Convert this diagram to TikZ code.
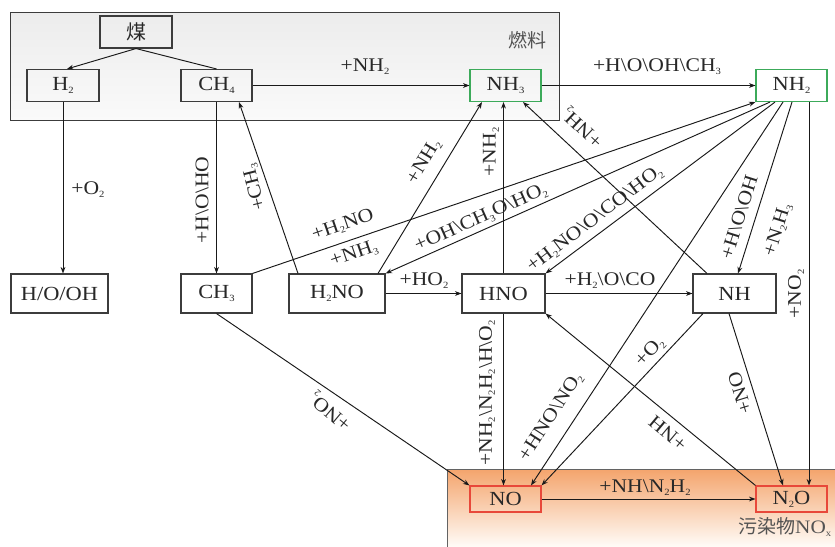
\documentclass[tikz,border=0pt]{standalone}
\usepackage{fontspec}
\setmainfont{Liberation Serif}[FakeStretch=1.12]
\newfontfamily\cjk{Noto Sans CJK SC}
\usetikzlibrary{arrows.meta,calc}
\newcommand\sbs[1]{\raisebox{-3.2pt}{\fontsize{9.5}{9.5}\selectfont #1}}
\newcommand\bsl{\textbackslash}
\definecolor{lnc}{RGB}{25,25,25}
\definecolor{bxc}{RGB}{60,60,60}
\definecolor{txc}{RGB}{40,40,40}
\definecolor{grn}{RGB}{60,170,90}
\definecolor{rdc}{RGB}{232,72,58}
\begin{document}
\begin{tikzpicture}[x=1pt,y=-1pt,
  box/.style={draw=bxc, line width=1.1pt, inner sep=0pt, minimum width=71pt, minimum height=32pt, font=\fontsize{20}{20}\selectfont, text=txc},
  gbox/.style={box, draw=grn},
  rbox/.style={box, draw=rdc, minimum height=26pt},
  lbl/.style={font=\fontsize{19.3}{19.3}\selectfont, text=txc, inner sep=0pt},
  arr/.style={draw=lnc, line width=0.95pt, -{Stealth[length=6.5pt,width=4.8pt]}},
  pln/.style={draw=lnc, line width=0.95pt}
]
\useasboundingbox (0,0) rectangle (835,546);
\fill[white] (0,0) rectangle (835,546);
% fuel region
\shade[top color={rgb,255:red,236;green,236;blue,236}, bottom color={rgb,255:red,250;green,250;blue,250}] (10,12) rectangle (559,120);
\draw[draw=bxc, line width=1pt] (10,12) rectangle (559,120);
\node[font=\cjk\fontsize{19}{19}\selectfont, text=txc!80] (fuel) at (527,40) {燃料};
% pollutant region
\shade[top color={rgb,255:red,244;green,164;blue,108}, bottom color={rgb,255:red,255;green,252;blue,248}] (447,469) rectangle (836,547);
\draw[draw=bxc!80, line width=1pt] (836,469) -- (447,469) -- (447,547);
\node[font=\fontsize{19}{19}\selectfont, text=txc!80, anchor=west, inner sep=0pt] (poll) at (738,527) {{\cjk 污染物}NO\sbs{x}};

% nodes
\node[box, minimum width=72pt] (coal) at (136,32) {\cjk 煤};
\node[box, minimum width=72pt] (H2) at (63,85.5) {H\sbs{2}};
\node[box] (CH4) at (216.5,85.5) {CH\sbs{4}};
\node[gbox] (NH3) at (505.5,85.5) {NH\sbs{3}};
\node[gbox] (NH2) at (791.5,85.5) {NH\sbs{2}};
\node[box, minimum width=97pt, minimum height=39pt] (HOOH) at (59.5,293.5) {H/O/OH};
\node[box, minimum height=39pt] (CH3) at (216.5,293.5) {CH\sbs{3}};
\node[box, minimum width=96pt, minimum height=39pt] (H2NO) at (337,293.5) {H\sbs{2}NO};
\node[box, minimum width=83pt, minimum height=39pt] (HNO) at (503.5,293.5) {HNO};
\node[box, minimum width=83pt, minimum height=39pt] (NH) at (734.5,293.5) {NH};
\node[rbox] (NO) at (505.5,499) {NO};
\node[rbox] (N2O) at (791.5,499) {N\sbs{2}O};

% connectors
\draw[arr] (coal.south) -- ([xshift=4pt]H2.north);
\draw[pln] (coal.south) -- (CH4.north);
\draw[arr] (CH4.east) -- (NH3.west);
\draw[arr] (NH3.east) -- (NH2.west);
\draw[arr] (H2.south) -- (H2.south |- HOOH.north);
\draw[arr] (CH4.south) -- (CH3.north);
\draw[arr] ([xshift=-39pt]H2NO.north) -- ([xshift=22.5pt]CH4.south);
\draw[arr] (CH3.north east) -- (NH2.south west);
\draw[arr] ([xshift=-21.5pt]NH2.south) -- (H2NO.north east);
\draw[arr] ([xshift=-16.5pt]NH2.south) -- (HNO.north east);
\draw[arr] ([xshift=-8.5pt]NH2.south) -- ([xshift=25.5pt]NO.north);
\draw[arr] ([xshift=0.5pt]NH2.south) -- ([xshift=3.5pt]NH.north);
\draw[arr] ([xshift=17.5pt]NH2.south) -- ([xshift=17.5pt]N2O.north);
\draw[arr] (HNO.north) -- (HNO.north |- NH3.south);
\draw[arr] ([xshift=41pt]H2NO.north) -- ([xshift=-23.5pt]NH3.south);
\draw[arr] ([xshift=-27.5pt]NH.north) -- ([xshift=17.5pt]NH3.south);
\draw[arr] (HNO.east) -- (NH.west);
\draw[arr] (H2NO.east) -- (HNO.west);
\draw[arr] (HNO.south) -- (HNO.south |- NO.north);
\draw[arr] (CH3.south) -- (NO.north west);
\draw[arr] ([xshift=-31.5pt]NH.south) -- (NO.north east);
\draw[arr] (N2O.north west) -- (HNO.south east);
\draw[arr] ([xshift=-5.5pt]NH.south) -- ([xshift=-8.5pt]N2O.north);
\draw[arr] (NO.east) -- (N2O.west);

% labels
\node[lbl] (l1) at (365,67) {+NH\sbs{2}};
\node[lbl] (l2) at (657,67) {+H\bsl O\bsl OH\bsl CH\sbs{3}};
\node[lbl] (l3) at (88,190) {+O\sbs{2}};
\node[lbl, rotate=90] (l4) at (202,200) {+H\bsl O\bsl HO};
\node[lbl, rotate=104] (l5) at (255,187) {+CH\sbs{3}};
\node[lbl, rotate=19] (l6) at (343,225) {+H\sbs{2}NO};
\node[lbl, rotate=19] (l7) at (354,254) {+NH\sbs{3}};
\node[lbl, rotate=59] (l8) at (424,162) {+NH\sbs{2}};
\node[lbl, rotate=90] (l9) at (491,152) {+NH\sbs{2}};
\node[lbl, rotate=24] (l10) at (481,218) {+OH\bsl CH\sbs{3}O\bsl HO\sbs{2}};
\node[lbl, rotate=137] (l11) at (583,127) {+NH\sbs{2}};
\node[lbl, rotate=37] (l12) at (595,219) {+H\sbs{2}NO\bsl O\bsl CO\bsl HO\sbs{2}};
\node[lbl, rotate=72.6] (l13) at (739,217) {+H\bsl O\bsl OH};
\node[lbl, rotate=72.6] (l14) at (778,230) {+N\sbs{2}H\sbs{3}};
\node[lbl, rotate=90] (l15) at (796,294) {+NO\sbs{2}};
\node[lbl] (l16) at (424,281) {+HO\sbs{2}};
\node[lbl] (l17) at (610,281) {+H\sbs{2}\bsl O\bsl CO};
\node[lbl, rotate=90] (l18) at (487,393) {+NH\sbs{2}\bsl N\sbs{2}H\sbs{2}\bsl H\bsl O\sbs{2}};
\node[lbl, rotate=57] (l19) at (551,417) {+HNO\bsl NO\sbs{2}};
\node[lbl, rotate=47] (l20) at (650,352) {+O\sbs{2}};
\node[lbl, rotate=140] (l21) at (331,411) {+NO\sbs{2}};
\node[lbl, rotate=140] (l22) at (668,433) {+NH};
\node[lbl, rotate=107] (l23) at (740,393) {+NO};
\node[lbl] (l24) at (645,488) {+NH\bsl N\sbs{2}H\sbs{2}};
\end{tikzpicture}
\end{document}
